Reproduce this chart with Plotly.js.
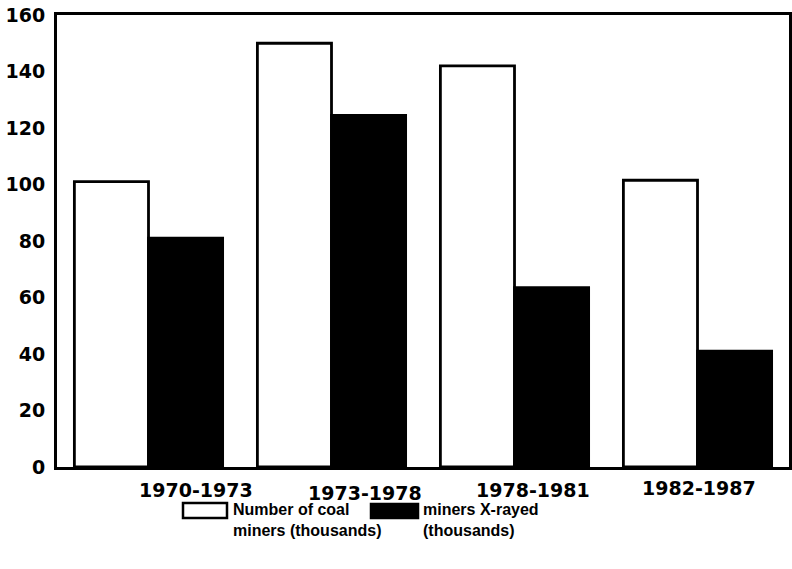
<!DOCTYPE html>
<html><head><meta charset="utf-8">
<script src="https://cdn.plot.ly/plotly-3.0.1.min.js"></script>
<style>html,body{margin:0;padding:0;background:#fff}</style>
</head><body>
<div id="chart" style="width:792px;height:569px"></div>
<script>
const periods = ["1970-1973", "1973-1978", "1978-1981", "1982-1987"];
const coalMiners = [101, 150, 142, 101.5];
const minersXrayed = [81, 124.5, 63.5, 41];
const seriesNames = ["Number of coal<br>miners (thousands)", "miners X-rayed<br>(thousands)"];
const yTickValues = [0, 20, 40, 60, 80, 100, 120, 140, 160];

// layout helpers (pixels)
const W = 792, H = 569, ML = 57, MR = 3, MT = 15, MB = 102;
const PW = W - ML - MR, PH = H - MT - MB;
const px2x = p => (p - ML) / PW;
const px2y = p => (H - MB - p) / PH;

const font = {family: "DejaVu Sans", size: 19, color: "#000", weight: "bold"};
const legendFont = {family: "Liberation Sans", size: 16, color: "#000", weight: "bold"};

const traces = [
  {type: "bar", x: periods, y: coalMiners, name: seriesNames[0],
   marker: {color: "#ffffff", line: {color: "#000", width: 2.8}}},
  {type: "bar", x: periods, y: minersXrayed, name: seriesNames[1],
   marker: {color: "#000000", line: {color: "#000", width: 2.8}}}
];

const labelXShift = [47, 33, 18, 1];
const labelYShift = [-23, -26, -23, -21];
const annotations = periods.map((p, i) => ({
  x: p, xref: "x", y: 0, yref: "paper", yanchor: "middle", xanchor: "center",
  xshift: labelXShift[i], yshift: labelYShift[i], showarrow: false, text: p, font: font
}));

// custom legend
const legendBoxes = [[183, 227, 503, 518], [371, 418, 504, 518]];
const legendTextX = [231, 421];
const legendFill = ["#ffffff", "#000000"];
const shapes = legendBoxes.map((b, i) => ({
  type: "rect", xref: "paper", yref: "paper",
  x0: px2x(b[0]), x1: px2x(b[1]), y0: px2y(b[3]), y1: px2y(b[2]),
  fillcolor: legendFill[i], line: {color: "#000", width: 2.5}
}));
seriesNames.forEach((n, i) => annotations.push({
  x: px2x(legendTextX[i]), xref: "paper", xanchor: "left",
  y: px2y(499), yref: "paper", yanchor: "top", align: "left",
  showarrow: false, text: n, font: legendFont
}));

const layout = {
  width: W, height: H,
  margin: {l: ML, r: MR, t: MT, b: MB, pad: 0},
  paper_bgcolor: "#fff", plot_bgcolor: "#fff",
  showlegend: false,
  barmode: "group", bargap: 0.19, bargroupgap: 0,
  font: font,
  xaxis: {type: "category", showticklabels: false, showgrid: false, zeroline: false,
          showline: true, mirror: true, linecolor: "#000", linewidth: 3, ticks: ""},
  yaxis: {range: [0, 160], tickvals: yTickValues, showgrid: false, zeroline: false,
          showline: true, mirror: true, linecolor: "#000", linewidth: 3, ticks: "",
          ticklabelstandoff: 5, tickfont: font},
  shapes: shapes,
  annotations: annotations
};

Plotly.newPlot("chart", traces, layout, {displayModeBar: false, staticPlot: true});
</script>
</body></html>
